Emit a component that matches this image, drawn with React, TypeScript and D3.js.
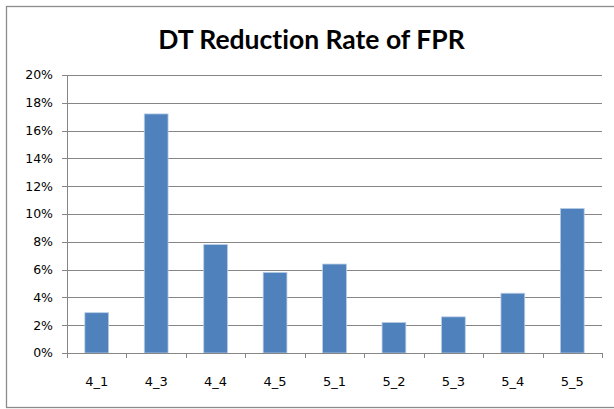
import React from 'react';
import * as d3 from 'd3';

const categories = ['4_1', '4_3', '4_4', '4_5', '5_1', '5_2', '5_3', '5_4', '5_5'];
const values = [0.029, 0.172, 0.078, 0.058, 0.064, 0.022, 0.026, 0.043, 0.104];
const yTicks = [0, 0.02, 0.04, 0.06, 0.08, 0.1, 0.12, 0.14, 0.16, 0.18, 0.2];

const W = 614;
const H = 409;
const plot = { left: 67, right: 602, top: 75, bottom: 353 };

const App: React.FC = () => {
  const x = d3.scaleBand<string>()
    .domain(categories)
    .range([plot.left, plot.right])
    .paddingInner(0.6)
    .paddingOuter(0.3);
  const step = x.step();

  const y = d3.scaleLinear()
    .domain([0, 0.2])
    .range([plot.bottom, plot.top]);

  const fmt = d3.format('.0%');
  const axisColor = '#868686';

  return (
    <div style={{ position: 'absolute', left: 0, top: 0 }}>
      <svg width={W} height={H} style={{ display: 'block' }}>
        <rect x={0} y={0} width={W} height={H} fill="#fff" />
        {/* chart frame, right edge runs off the canvas */}
        <rect x={6.5} y={6.5} width={620} height={401} fill="#fff" stroke="#8c8c8c" strokeWidth={1.3} />
        <text
          x={311.5}
          y={48.5}
          textAnchor="middle"
          fontFamily="Lato, 'Open Sans', sans-serif"
          fontWeight="bold"
          fontSize={26.5}
          fill="#000"
          style={{ fontVariantLigatures: 'none', fontFeatureSettings: '"liga" 0, "dlig" 0' }}
        >
          DT Reduction Rate of FPR
        </text>

        {/* gridlines + y ticks */}
        {yTicks.map(t => (
          <g key={t}>
            {t > 0 && (
              <line x1={plot.left} x2={plot.right} y1={Math.round(y(t)) + 0.5} y2={Math.round(y(t)) + 0.5} stroke={axisColor} />
            )}
            <line x1={plot.left - 5} x2={plot.left} y1={Math.round(y(t)) + 0.5} y2={Math.round(y(t)) + 0.5} stroke={axisColor} />
            <text
              x={53}
              y={y(t)}
              dy="0.35em"
              textAnchor="end"
              fontFamily="'DejaVu Sans', sans-serif"
              fontSize={12.5}
              fill="#000"
            >
              {fmt(t)}
            </text>
          </g>
        ))}

        {/* bars */}
        {categories.map((c, i) => (
          <rect
            key={c}
            x={x(c)}
            y={y(values[i])}
            width={x.bandwidth()}
            height={y(0) - y(values[i])}
            fill="#4F81BD"
            stroke="#B9CDE5"
            strokeWidth={0.8}
          />
        ))}

        {/* axes */}
        <line x1={plot.left + 0.5} x2={plot.left + 0.5} y1={plot.top} y2={plot.bottom} stroke={axisColor} />
        <line x1={plot.left} x2={plot.right} y1={plot.bottom + 0.5} y2={plot.bottom + 0.5} stroke={axisColor} />
        {d3.range(categories.length + 1).map(i => {
          const px = Math.round(plot.left + i * step) + 0.5;
          return <line key={i} x1={px} x2={px} y1={plot.bottom} y2={plot.bottom + 5} stroke={axisColor} />;
        })}
        {categories.map(c => (
          <text
            key={c}
            x={(x(c) ?? 0) + x.bandwidth() / 2}
            y={386}
            textAnchor="middle"
            fontFamily="'DejaVu Sans', sans-serif"
            fontSize={13}
            fill="#000"
          >
            {c}
          </text>
        ))}
      </svg>
    </div>
  );
};

export default App;
